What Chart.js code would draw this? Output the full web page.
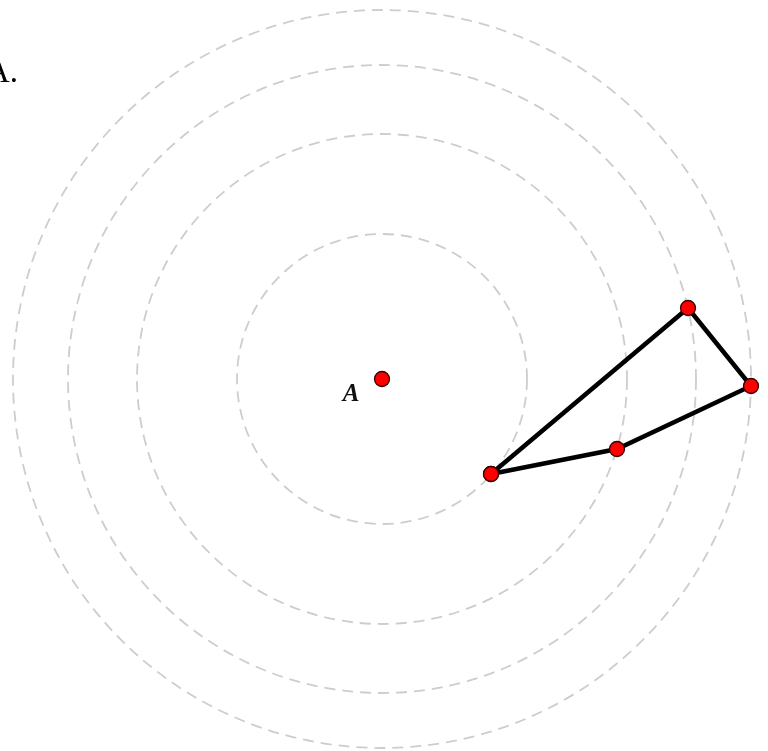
<!DOCTYPE html>
<html>
<head>
<meta charset="utf-8">
<script src="https://cdn.jsdelivr.net/npm/chart.js@4/dist/chart.umd.min.js"></script>
<style>
  html, body { margin: 0; padding: 0; background: #fff; overflow: hidden; }
  #wrap { position: relative; width: 768px; height: 751px; }
</style>
</head>
<body>
<div id="wrap"><canvas id="rings"></canvas></div>
<script>
// centre A and the four rings (same units as the axes, A at 0,0)
const centerX = [0];
const centerY = [0];
const ringRadii = [145, 245, 314, 369];

// closed path through the four points on the rings
const pathX = [109, 306, 369, 235, 109];
const pathY = [-95, 71, -7, -70, -95];

const pointLabel = 'A';
const cornerText = 'A.';

// dashed rings, drawn through the scales
const ringsPlugin = {
    id: 'rings',
    beforeDatasetsDraw(chart) {
        const ctx = chart.ctx;
        const sx = chart.scales.x, sy = chart.scales.y;
        const cx = sx.getPixelForValue(centerX[0]);
        const cy = sy.getPixelForValue(centerY[0]);
        ctx.save();
        ctx.strokeStyle = '#cdcdcd';
        ctx.lineWidth = 1.8;
        ctx.setLineDash([11, 7]);
        ringRadii.forEach(function(r) {
            const rp = sx.getPixelForValue(centerX[0] + r) - cx;
            ctx.beginPath();
            ctx.arc(cx, cy, rp, 0, Math.PI * 2);
            ctx.stroke();
        });
        ctx.restore();
    },
    afterDatasetsDraw(chart) {
        const ctx = chart.ctx;
        const sx = chart.scales.x, sy = chart.scales.y;
        ctx.save();
        // label next to A
        ctx.fillStyle = '#111';
        ctx.font = 'italic bold 25px "Liberation Serif", "DejaVu Serif", serif';
        ctx.textAlign = 'center';
        ctx.textBaseline = 'alphabetic';
        ctx.fillText(pointLabel, sx.getPixelForValue(centerX[0]) - 31, sy.getPixelForValue(centerY[0]) + 22);
        // cut-off text at top left
        ctx.fillStyle = '#000';
        ctx.font = '33px "Liberation Serif", serif';
        ctx.textAlign = 'left';
        ctx.fillText(cornerText, -14, 82);
        ctx.restore();
    }
};

document.addEventListener('DOMContentLoaded', function() {
    const ctx = document.getElementById('rings').getContext('2d');
    new Chart(ctx, {
        type: 'scatter',
        data: {
            datasets: [{
                label: 'path',
                data: pathX.map(function(x, i) { return { x: x, y: pathY[i] }; }),
                showLine: true,
                borderColor: '#000',
                borderWidth: 4.5,
                pointRadius: 7.5,
                pointBackgroundColor: '#ff0000',
                pointBorderColor: '#3a0000',
                pointBorderWidth: 1.3,
                clip: false
            }, {
                label: 'A',
                data: centerX.map(function(x, i) { return { x: x, y: centerY[i] }; }),
                pointRadius: 7.5,
                pointBackgroundColor: '#ff0000',
                pointBorderColor: '#3a0000',
                pointBorderWidth: 1.3,
                clip: false
            }]
        },
        options: {
            responsive: true,
            maintainAspectRatio: false,
            animation: false,
            layout: { padding: 0, autoPadding: false },
            plugins: {
                legend: { display: false },
                tooltip: { enabled: false }
            },
            scales: {
                x: { type: 'linear', min: -382, max: 386, display: false },
                y: { type: 'linear', min: -372, max: 379, display: false }
            }
        },
        plugins: [ringsPlugin]
    });
});
</script>
</body>
</html>
